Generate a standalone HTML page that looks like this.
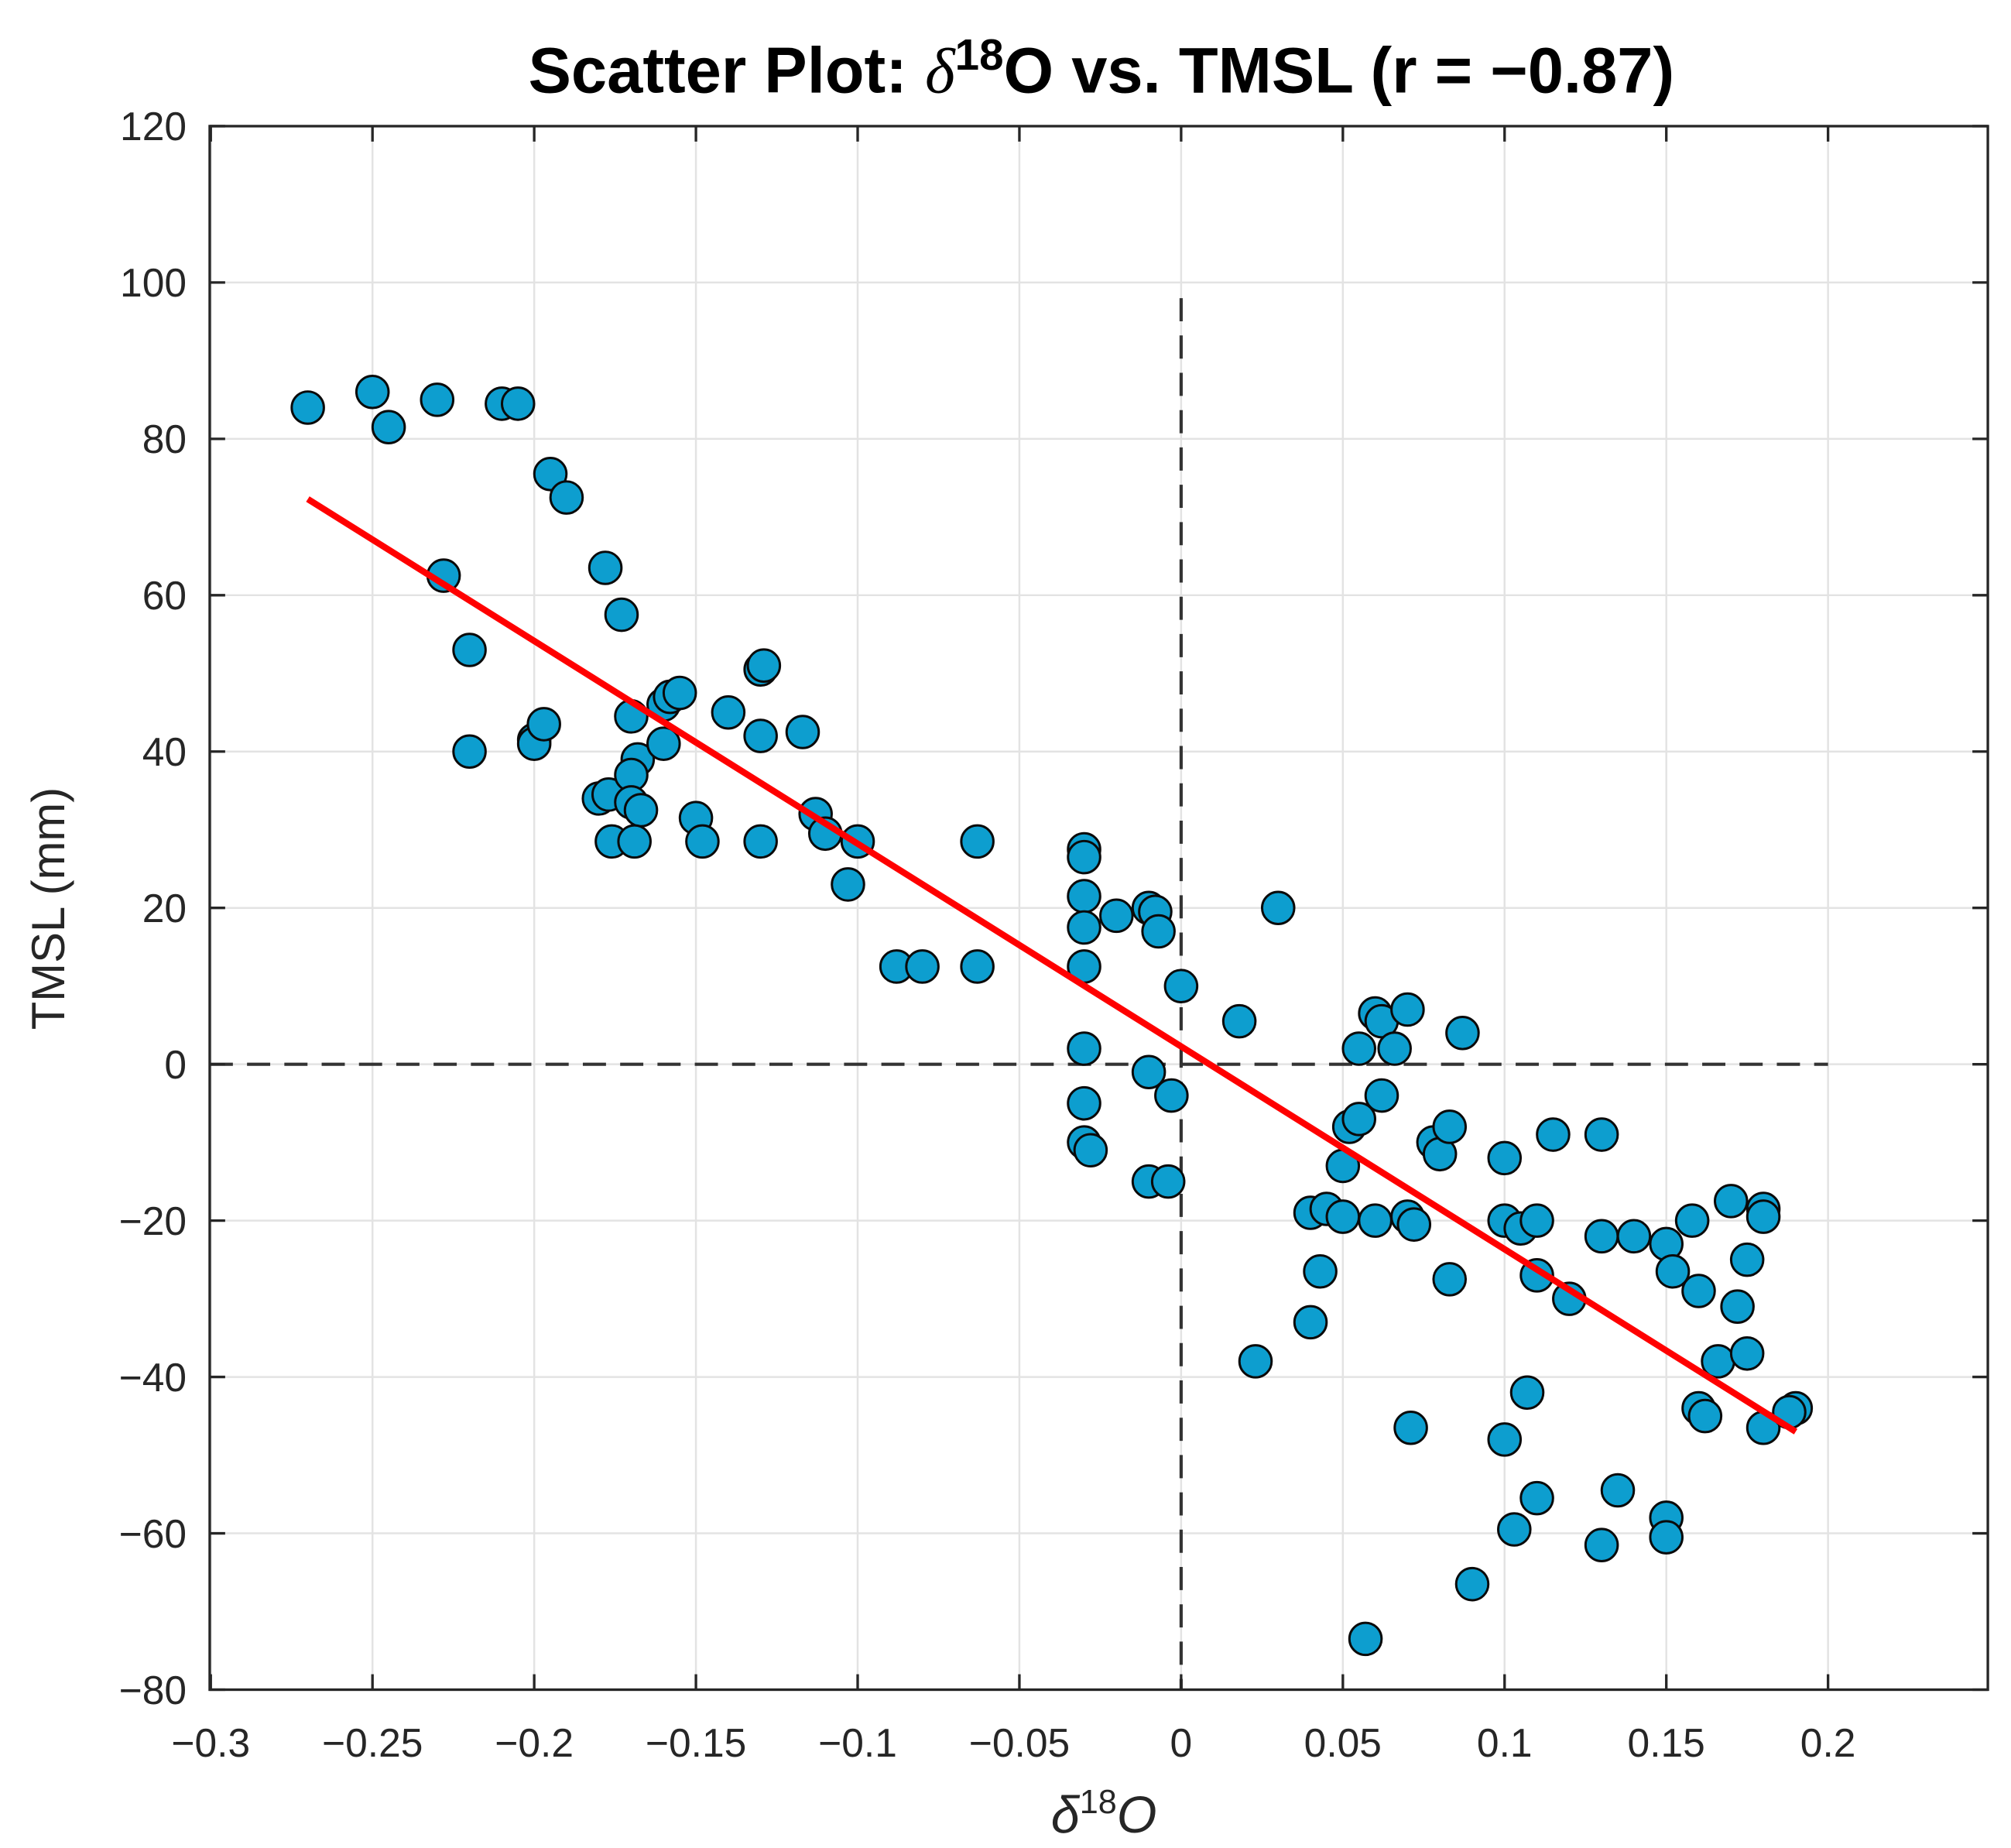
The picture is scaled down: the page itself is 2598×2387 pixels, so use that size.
<!DOCTYPE html>
<html><head><meta charset="utf-8"><style>
html,body{margin:0;padding:0;background:#fff;}
svg{display:block;}
text{font-family:"Liberation Sans",sans-serif;}
</style></head><body>
<svg id="chart" width="2598" height="2387" viewBox="0 0 1563 1436" xmlns="http://www.w3.org/2000/svg">
<rect width="1563" height="1436" fill="#fff"/>
<g id="grid"></g>
<g id="refs"></g>
<g id="pts"></g>
<g id="fit"></g>
<rect x="163" y="98" width="1382" height="1215" fill="none" stroke="#262626" stroke-width="2"/>
<g id="ticks"></g>
<text x="856" y="72" text-anchor="middle" font-size="50" font-weight="bold" fill="#000">Scatter Plot: <tspan font-family="'Liberation Serif',serif" font-style="italic" font-weight="normal">δ</tspan><tspan font-size="34" dy="-18">18</tspan><tspan dy="18">O vs. TMSL (r = −0.87)</tspan></text>
<text transform="translate(50,706) rotate(-90)" text-anchor="middle" font-size="36" fill="#262626">TMSL (mm)</text>
<text x="858" y="1424" text-anchor="middle" font-size="40" fill="#262626" font-family="'Liberation Serif',serif" font-style="italic">δ<tspan font-size="26" dy="-15" font-style="normal">18</tspan><tspan dy="15">O</tspan></text>
</svg>
<script>
const xTicks=[-0.3,-0.25,-0.2,-0.15,-0.1,-0.05,0,0.05,0.1,0.15,0.2];
const xTickLabels=["−0.3","−0.25","−0.2","−0.15","−0.1","−0.05","0","0.05","0.1","0.15","0.2"];
const yTicks=[120,100,80,60,40,20,0,-20,-40,-60,-80];
const yTickLabels=["120","100","80","60","40","20","0","−20","−40","−60","−80"];
const xVals=[-0.27,-0.25,-0.245,-0.23,-0.21,-0.205,-0.195,-0.19,-0.228,-0.22,-0.22,-0.2,-0.2,-0.197,-0.178,-0.173,-0.18,-0.177,-0.176,-0.17,-0.168,-0.17,-0.17,-0.167,-0.169,-0.16,-0.16,-0.158,-0.155,-0.15,-0.148,-0.14,-0.13,-0.129,-0.13,-0.13,-0.117,-0.113,-0.11,-0.1,-0.103,-0.088,-0.08,-0.063,-0.063,-0.03,-0.03,-0.03,-0.03,-0.03,-0.03,-0.03,-0.03,-0.028,-0.02,-0.01,-0.008,-0.007,-0.01,-0.01,-0.004,-0.003,0,0.018,0.03,0.023,0.04,0.04,0.043,0.045,0.05,0.05,0.052,0.055,0.055,0.06,0.062,0.062,0.06,0.066,0.07,0.07,0.072,0.071,0.078,0.08,0.083,0.083,0.087,0.057,0.09,0.1,0.1,0.105,0.11,0.11,0.115,0.107,0.1,0.11,0.103,0.12,0.13,0.13,0.14,0.135,0.13,0.15,0.152,0.15,0.15,0.158,0.16,0.16,0.162,0.166,0.17,0.172,0.175,0.175,0.18,0.18,0.18,0.19,0.188];
const yVals=[84,86,81.5,85,84.5,84.5,75.5,72.5,62.5,53,40,41.5,41,43.5,63.5,57.5,34,34.5,28.5,44.5,39,37,33.5,32.5,28.5,46,41,47,47.5,31.5,28.5,45,50.5,51,42,28.5,42.5,32,29.5,28.5,23,12.5,12.5,28.5,12.5,27.5,26.5,21.5,17.5,12.5,2,-5,-10,-11,19,20,19.5,17,-1,-15,-15,-4,10,5.5,20,-38,-19,-33,-26.5,-18.5,-19.5,-13,-8,-7,2,6.5,5.5,-4,-20,2,7,-19.5,-20.5,-46.5,-10,-11.5,-8,-27.5,4,-73.5,-66.5,-12,-20,-21,-20,-27,-9,-42,-48,-55.5,-59.5,-30,-9,-22,-22,-54.5,-61.5,-23,-26.5,-58,-60.5,-20,-29,-44,-45,-38,-17.5,-31,-25,-37,-18.5,-19.5,-46.5,-44,-44.5];
const fitX=[-0.27,0.19];
const fitY=[72.3,-47];
const NS="http://www.w3.org/2000/svg";
const L=163,R=1545,T=98,B=1313;
function sx(v){return 918+v*2514;}
function sy(v){return 827-v*6.075;}
function mk(tag,attrs,parent){const e=document.createElementNS(NS,tag);for(const k in attrs)e.setAttribute(k,attrs[k]);parent.appendChild(e);return e;}
const grid=document.getElementById('grid'),ticks=document.getElementById('ticks'),refs=document.getElementById('refs'),pts=document.getElementById('pts'),fit=document.getElementById('fit');
xTicks.forEach((v,i)=>{const x=sx(v);
 const g=mk('line',{x1:x,x2:x,y1:T,y2:B,stroke:'#e3e3e3','stroke-width':1.5},grid);
 
 
 mk('line',{x1:x,x2:x,y1:B,y2:B-12,stroke:'#262626','stroke-width':2},ticks);
 mk('line',{x1:x,x2:x,y1:T,y2:T+12,stroke:'#262626','stroke-width':2},ticks);
 const t=mk('text',{x:x,y:B+52,'text-anchor':'middle','font-size':31,fill:'#262626'},ticks);t.textContent=xTickLabels[i];
 
 
});
yTicks.forEach((v,i)=>{const y=sy(v);
 const g=mk('line',{x1:L,x2:R,y1:y,y2:y,stroke:'#e3e3e3','stroke-width':1.5},grid);
 
 
 mk('line',{x1:L,x2:L+12,y1:y,y2:y,stroke:'#262626','stroke-width':2},ticks);
 mk('line',{x1:R,x2:R-12,y1:y,y2:y,stroke:'#262626','stroke-width':2},ticks);
 const t=mk('text',{x:L-18,y:y+11,'text-anchor':'end','font-size':31,fill:'#262626'},ticks);t.textContent=yTickLabels[i];
 
 
});
const hz=mk('line',{x1:L,x2:sx(0.2),y1:sy(0),y2:sy(0),stroke:'#333','stroke-width':2.5,'stroke-dasharray':'18,11'},refs);


const vt=mk('line',{x1:sx(0),x2:sx(0),y1:sy(98),y2:B,stroke:'#333','stroke-width':2.5,'stroke-dasharray':'18,11'},refs);


xVals.forEach((v,i)=>{
 const c=mk('circle',{cx:sx(v),cy:sy(yVals[i]),r:12.5,fill:'#0d9ecf',stroke:'#0a0a0a','stroke-width':1.8},pts);
 
 
});
const fl=mk('line',{x1:sx(fitX[0]),y1:sy(fitY[0]),x2:sx(fitX[1]),y2:sy(fitY[1]),stroke:'#ff0000','stroke-width':5},fit);


</script>
</body></html>
